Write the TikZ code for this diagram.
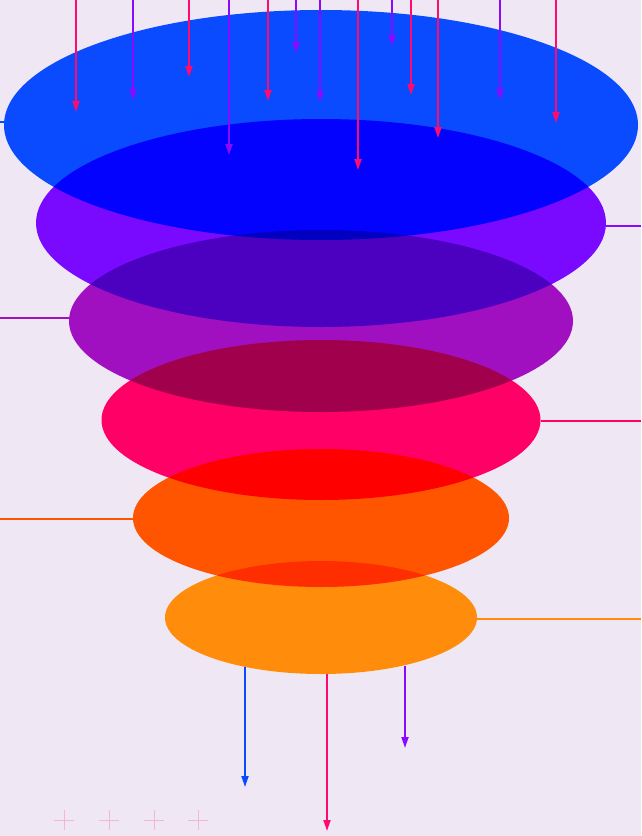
\documentclass[tikz,border=0pt]{standalone}
\usepackage{xcolor}
\usepackage{tikz}
\usetikzlibrary{shapes.geometric, arrows.meta}
\definecolor{paper}{HTML}{EFE8F4}
\definecolor{lvA}{HTML}{0A4BFF}
\definecolor{lvB}{HTML}{7A0AFF}
\definecolor{lvC}{HTML}{A010C0}
\definecolor{lvD}{HTML}{FF0066}
\definecolor{lvE}{HTML}{FF5500}
\definecolor{lvF}{HTML}{FF8C0A}
\definecolor{rose}{HTML}{FF0A6E}
\definecolor{violet}{HTML}{8A0AFF}
\tikzset{
  layer/.style  = {ellipse, draw=none, inner sep=0pt, fill=#1},
  feed/.style   = {-{Triangle[length=11pt, width=7pt]}, line width=1.8pt, draw=#1},
  tie/.style    = {line width=1.6pt, draw=#1},
  plusmark/.style = {line width=0.7pt, draw=rose, opacity=0.22},
}
\begin{document}
\begin{tikzpicture}[x=1pt, y=-1pt]
  \fill[paper] (0,0) rectangle (641,836);
  \useasboundingbox (0,0) rectangle (641,836);

  % funnel layers
  \begin{scope}[blend group=multiply]
    \node[layer=lvA, minimum width=634pt, minimum height=230pt] (e1) at (321,125) {};
    \node[layer=lvB, minimum width=570pt, minimum height=208pt] (e2) at (321,223) {};
    \node[layer=lvC, minimum width=504pt, minimum height=182pt] (e3) at (321,321) {};
    \node[layer=lvD, minimum width=439pt, minimum height=160pt] (e4) at (321,420) {};
    \node[layer=lvE, minimum width=376pt, minimum height=138pt] (e5) at (321,518) {};
    \node[layer=lvF, minimum width=312pt, minimum height=113pt] (e6) at (321,617.5) {};
  \end{scope}

  % side leads
  \coordinate (lft) at (0,0);
  \coordinate (rgt) at (641,0);
  \draw[tie=lvA] ([yshift=3pt]e1.west) -- ([yshift=3pt]e1.west -| lft);
  \draw[tie=violet] ([yshift=-3pt]e2.east) -- ([yshift=-3pt]e2.east -| rgt);
  \draw[tie=lvC] ([yshift=3pt]e3.west) -- ([yshift=3pt]e3.west -| lft);
  \draw[tie=lvD] ([yshift=-1pt]e4.east) -- ([yshift=-1pt]e4.east -| rgt);
  \draw[tie=lvE] ([yshift=-1pt]e5.west) -- ([yshift=-1pt]e5.west -| lft);
  \draw[tie=lvF] ([yshift=-1.5pt]e6.east) -- ([yshift=-1.5pt]e6.east -| rgt);

  % incoming drops
  \foreach \x/\y/\c [count=\i] in {76/112/rose, 133/100/violet, 189/77/rose,
      229/155/violet, 268/101/rose, 296/53/violet, 320/102/violet,
      358/170/rose, 392/46/violet, 411/95/rose, 438/138/rose,
      500/100/violet, 556/123/rose} {
    \coordinate (s\i) at (\x,0);
    \coordinate (t\i) at (\x,\y);
    \draw[feed=\c] (s\i) -- (t\i);
  }

  % outgoing drops
  \coordinate (b1) at (245,787);
  \coordinate (b2) at (327,831);
  \coordinate (b3) at (405,748);
  \draw[feed=lvA] (b1 |- e6.213) -- (b1);
  \draw[feed=rose] (b2 |- e6.276) -- (b2);
  \draw[feed=violet] (b3 |- e6.330.5) -- (b3);

  % faint marks
  \foreach \x in {64,109,154,198}
    \draw[plusmark] (\x-10,820) -- (\x+10,820) (\x,810) -- (\x,830);
\end{tikzpicture}
\end{document}
